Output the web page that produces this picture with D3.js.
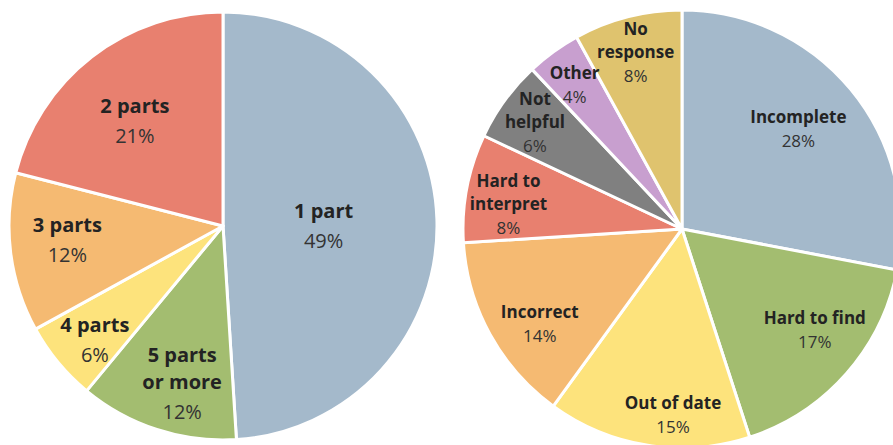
<!DOCTYPE html>
<html>
<head>
<meta charset="utf-8">
<script src="https://cdn.jsdelivr.net/npm/d3@7"></script>
<style>
  body { margin: 0; background: #fff; }
  svg { display: block; }
  text { font-family: "Open Sans", "Noto Sans", sans-serif; }
</style>
</head>
<body>
<svg id="chart" width="893" height="445"></svg>
<script>
// left pie: number of parts
var partsNames = ["1 part", "5 parts\nor more", "4 parts", "3 parts", "2 parts"];
var partsValues = [49, 12, 6, 12, 21];
var partsColors = ["#a4b9cb", "#a3bd70", "#fde37c", "#f5ba72", "#e8806f"];

// right pie: problems reported
var probNames = ["Incomplete", "Hard to find", "Out of date", "Incorrect",
                 "Hard to\ninterpret", "Not\nhelpful", "Other", "No\nresponse"];
var probValues = [28, 17, 15, 14, 8, 6, 4, 8];
var probColors = ["#a4b9cb", "#a3bd70", "#fde37c", "#f5ba72",
                  "#e8806f", "#808080", "#c89fcf", "#dfc36e"];

// label placement: radius as fraction of pie radius, angle as fraction across the slice
var partsLabelR = [0.47, 0.76, 0.80, 0.73, 0.64];
var partsLabelA = [0.51, 0.42, 0.41, 0.55, 0.47];
var probLabelR = [0.70, 0.76, 0.85, 0.78, 0.80, 0.83, 0.82, 0.835];
var probLabelA = [0.49, 0.43, 0.385, 0.405, 0.40, 0.50, 0.45, 0.49];

var svg = d3.select("#chart");

function drawPie(opt) {
  var pie = d3.pie().sort(null).value(function(d) { return d.value; });
  var arcs = pie(opt.names.map(function(n, i) {
    return { name: n, value: opt.values[i], color: opt.colors[i],
             lr: opt.labelR[i], la: opt.labelA[i] };
  }));

  var arc = d3.arc().innerRadius(0).outerRadius(opt.r);

  var g = svg.append("g")
      .attr("transform", "translate(" + opt.cx + "," + opt.cy + ")");

  g.selectAll("path")
    .data(arcs)
    .enter().append("path")
      .attr("d", arc)
      .attr("fill", function(d) { return d.data.color; })
      .attr("stroke", "#fff")
      .attr("stroke-width", 3)
      .attr("stroke-linejoin", "round");

  var labels = g.selectAll("g.lbl")
    .data(arcs)
    .enter().append("g")
      .attr("class", "lbl")
      .attr("transform", function(d) {
        var a = d.startAngle + (d.endAngle - d.startAngle) * d.data.la,
            rr = opt.r * d.data.lr;
        return "translate(" + (Math.sin(a) * rr) + "," + (-Math.cos(a) * rr) + ")";
      });

  labels.each(function(d) {
    var lines = d.data.name.split("\n");
    var span = (lines.length - 1) * opt.lineGap + opt.pctGap;
    var y0 = -span / 2 + opt.fs * 0.36;
    var t = d3.select(this);
    lines.forEach(function(l, i) {
      t.append("text")
        .attr("text-anchor", "middle")
        .attr("y", y0 + i * opt.lineGap)
        .attr("font-size", opt.fs)
        .attr("font-weight", 700)
        .attr("fill", "#232323")
        .text(l);
    });
    t.append("text")
      .attr("text-anchor", "middle")
      .attr("y", y0 + (lines.length - 1) * opt.lineGap + opt.pctGap)
      .attr("font-size", opt.fs)
      .attr("font-weight", 400)
      .attr("fill", "#333")
      .text(d.data.value + "%");
  });
}

drawPie({ names: partsNames, values: partsValues, colors: partsColors,
          labelR: partsLabelR, labelA: partsLabelA,
          cx: 223, cy: 226, r: 214, fs: 20, lineGap: 27, pctGap: 30 });

drawPie({ names: probNames, values: probValues, colors: probColors,
          labelR: probLabelR, labelA: probLabelA,
          cx: 682, cy: 229, r: 219, fs: 17, lineGap: 23, pctGap: 24 });
</script>
</body>
</html>
